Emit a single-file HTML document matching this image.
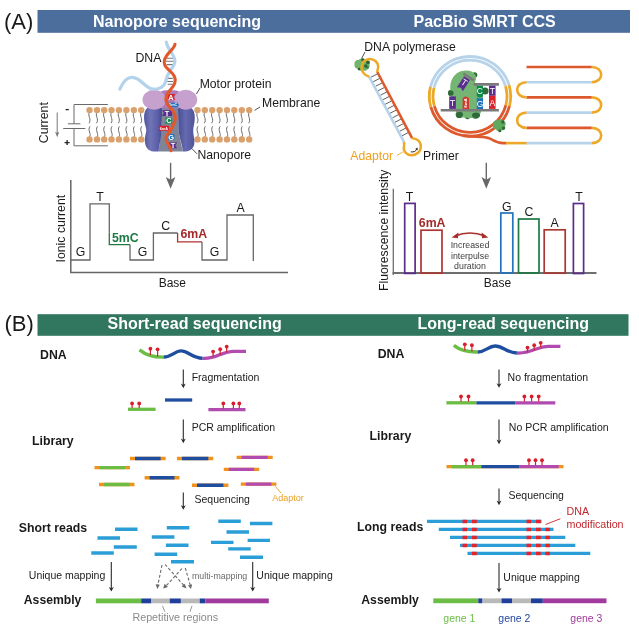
<!DOCTYPE html>
<html>
<head>
<meta charset="utf-8">
<title>Figure</title>
<style>
html,body{margin:0;padding:0;background:#fff;}
body{width:639px;height:630px;overflow:hidden;font-family:"Liberation Sans",sans-serif;}
svg{display:block;will-change:transform;}
text{font-family:"Liberation Sans",sans-serif;fill:#1a1a1a;}
.b{font-weight:bold;}
.h{font-weight:bold;font-size:16px;fill:#fff;}
.l12{font-size:12.3px;}
.l10{font-size:10.5px;}
</style>
</head>
<body>
<svg width="639" height="630" viewBox="0 0 639 630">
<defs>
<linearGradient id="poreG" x1="0" y1="0" x2="1" y2="0">
<stop offset="0" stop-color="#5a5fa6"/><stop offset="0.25" stop-color="#6c70b4"/><stop offset="0.5" stop-color="#4a4e92"/><stop offset="0.8" stop-color="#5e63aa"/><stop offset="1" stop-color="#474b8d"/>
</linearGradient>
<linearGradient id="poreL" x1="0" y1="0" x2="1" y2="0"><stop offset="0" stop-color="#52569c"/><stop offset="0.35" stop-color="#7074b7"/><stop offset="0.75" stop-color="#5b5fa8"/><stop offset="1" stop-color="#45498c"/></linearGradient>
<linearGradient id="poreR" x1="0" y1="0" x2="1" y2="0"><stop offset="0" stop-color="#4a4e93"/><stop offset="0.45" stop-color="#656ab0"/><stop offset="1" stop-color="#4f5399"/></linearGradient>
</defs>
<rect width="639" height="630" fill="#fff"/>

<!-- ===== HEADERS ===== -->
<g id="headers">
<rect x="37.5" y="10" width="592.5" height="22.8" fill="#4b6e9d"/>
<rect x="37.5" y="314.2" width="591" height="21.6" fill="#31765f"/>
<text x="4" y="28.6" font-size="22">(A)</text>
<text x="4.5" y="331.4" font-size="22">(B)</text>
<text class="h" x="93" y="27.2">Nanopore sequencing</text>
<text class="h" x="413.5" y="27.2">PacBio SMRT CCS</text>
<text class="h" x="107.5" y="329.2">Short-read sequencing</text>
<text class="h" x="417.5" y="329.2">Long-read sequencing</text>
</g>

<!-- ===== PANEL A LEFT: chart ===== -->
<g id="chartA">
<path d="M70.8 180V273.3M70.2 272.6H288" fill="none" stroke="#666" stroke-width="1.5"/>
<path d="M70.8 260H90V203.8H109.3V232.6" fill="none" stroke="#666" stroke-width="1.3"/>
<path d="M109.3 232.6V244.6H130" fill="none" stroke="#1d7a45" stroke-width="1.3"/>
<path d="M130 244.6V260H153.4V233H177.6" fill="none" stroke="#666" stroke-width="1.3"/>
<path d="M177.6 233V241.9H202" fill="none" stroke="#b03030" stroke-width="1.3"/>
<path d="M202 241.9V260H227V215H253.3V261" fill="none" stroke="#666" stroke-width="1.3"/>
<text class="l12" x="80.5" y="256" text-anchor="middle">G</text>
<text class="l12" x="100" y="201" text-anchor="middle">T</text>
<text class="l12 b" x="112" y="242" style="fill:#1d7a45">5mC</text>
<text class="l12" x="142.5" y="256" text-anchor="middle">G</text>
<text class="l12" x="165.8" y="230" text-anchor="middle">C</text>
<text class="l12 b" x="180.5" y="238" style="fill:#a52a2a">6mA</text>
<text class="l12" x="214.5" y="256" text-anchor="middle">G</text>
<text class="l12" x="240.5" y="212" text-anchor="middle">A</text>
<text class="l12" x="158.7" y="287" style="font-size:12px">Base</text>
<text class="l12" transform="translate(65,262.5) rotate(-90)">Ionic current</text>
<!-- arrow -->
<path d="M170.6 162.8V181" stroke="#686868" stroke-width="1.4" fill="none"/>
<path d="M165.8 176.9L170.6 188.7L175.4 176.9L170.6 179.8Z" fill="#686868"/>
</g>

<!-- ===== PANEL A RIGHT: chart ===== -->
<g id="chartB">
<path d="M393.3 188.8V275" fill="none" stroke="#6e6e6e" stroke-width="1.3"/>
<path d="M392.6 273H596.5" fill="none" stroke="#6e6e6e" stroke-width="2"/>
<rect x="404.7" y="203.4" width="10.4" height="70" fill="none" stroke="#5a2c8c" stroke-width="1.7"/>
<rect x="421" y="230.2" width="21" height="43" fill="none" stroke="#a93732" stroke-width="1.7"/>
<rect x="500.8" y="213" width="12" height="60" fill="none" stroke="#2374ba" stroke-width="1.7"/>
<rect x="518.5" y="219" width="20.5" height="54" fill="none" stroke="#1d7a45" stroke-width="1.7"/>
<rect x="544.2" y="229.8" width="21" height="43.4" fill="none" stroke="#a93732" stroke-width="1.7"/>
<rect x="573.4" y="203.5" width="10.2" height="70" fill="none" stroke="#5a2c8c" stroke-width="1.7"/>
<text class="l12" x="409.5" y="200.5" text-anchor="middle">T</text>
<text class="l12 b" x="418.8" y="227" style="fill:#a52a2a">6mA</text>
<text class="l12" x="506.9" y="210.5" text-anchor="middle">G</text>
<text class="l12" x="529" y="216" text-anchor="middle">C</text>
<text class="l12" x="554.6" y="226.7" text-anchor="middle">A</text>
<text class="l12" x="579" y="200.6" text-anchor="middle">T</text>
<text class="l12" x="483.8" y="287.4" style="font-size:12px">Base</text>
<text class="l12" transform="translate(388,291) rotate(-90)" style="font-size:12.2px">Fluorescence intensity</text>
<g style="font-size:8.8px" text-anchor="middle">
<text x="470" y="248" style="fill:#3c3c3c">Increased</text>
<text x="470" y="258.7" style="fill:#3c3c3c">interpulse</text>
<text x="470" y="269.3" style="fill:#3c3c3c">duration</text>
</g>
<path d="M455 236Q470 230 485 236" fill="none" stroke="#a8302a" stroke-width="1.6"/>
<path d="M451.6 237.4L458.4 232.6L458 238.2Z" fill="#a8302a"/>
<path d="M488.4 237.4L481.6 232.6L482 238.2Z" fill="#a8302a"/>
<path d="M486.3 162.8V181" stroke="#686868" stroke-width="1.4" fill="none"/>
<path d="M481.5 176.9L486.3 188.7L491.1 176.9L486.3 179.8Z" fill="#686868"/>
</g>

<!-- ===== PANEL A LEFT illustration ===== -->
<g id="nanopore">
<text class="l12" transform="translate(48.3,143.2) rotate(-90)">Current</text>
<path d="M57.2 112.5V133" stroke="#777" stroke-width="1" fill="none"/><path d="M55.1 131.8L57.2 137.2L59.3 131.8L57.2 133Z" fill="#777"/>
<path d="M65.6 109.6h3.2" stroke="#222" stroke-width="1.3"/><path d="M64.6 142.6h5M67.1 140.1v5" stroke="#222" stroke-width="1.3"/>
<path d="M107.9 104.5H74V123.8M67.9 123.8H80.4M63.2 128.5H85.3M74 128.5V145.8H107.9" fill="none" stroke="#6a6a6a" stroke-width="1"/>
<path d="M89.5 112.6c-2.4 3 2.4 6.4 -0.5 10.6M89.5 136.9c2.4 -3 -2.4 -6.4 0.5 -10.6M97.0 112.6c-2.4 3 2.4 6.4 -0.5 10.6M97.0 136.9c2.4 -3 -2.4 -6.4 0.5 -10.6M104.2 112.6c-2.4 3 2.4 6.4 -0.5 10.6M104.2 136.9c2.4 -3 -2.4 -6.4 0.5 -10.6M111.5 112.6c-2.4 3 2.4 6.4 -0.5 10.6M111.5 136.9c2.4 -3 -2.4 -6.4 0.5 -10.6M118.9 112.6c-2.4 3 2.4 6.4 -0.5 10.6M118.9 136.9c2.4 -3 -2.4 -6.4 0.5 -10.6M126.4 112.6c-2.4 3 2.4 6.4 -0.5 10.6M126.4 136.9c2.4 -3 -2.4 -6.4 0.5 -10.6M133.9 112.6c-2.4 3 2.4 6.4 -0.5 10.6M133.9 136.9c2.4 -3 -2.4 -6.4 0.5 -10.6M141.2 112.6c-2.4 3 2.4 6.4 -0.5 10.6M141.2 136.9c2.4 -3 -2.4 -6.4 0.5 -10.6M197.5 112.6c-2.4 3 2.4 6.4 -0.5 10.6M197.5 136.9c2.4 -3 -2.4 -6.4 0.5 -10.6M204.8 112.6c-2.4 3 2.4 6.4 -0.5 10.6M204.8 136.9c2.4 -3 -2.4 -6.4 0.5 -10.6M212.2 112.6c-2.4 3 2.4 6.4 -0.5 10.6M212.2 136.9c2.4 -3 -2.4 -6.4 0.5 -10.6M219.6 112.6c-2.4 3 2.4 6.4 -0.5 10.6M219.6 136.9c2.4 -3 -2.4 -6.4 0.5 -10.6M227.0 112.6c-2.4 3 2.4 6.4 -0.5 10.6M227.0 136.9c2.4 -3 -2.4 -6.4 0.5 -10.6M234.3 112.6c-2.4 3 2.4 6.4 -0.5 10.6M234.3 136.9c2.4 -3 -2.4 -6.4 0.5 -10.6M241.8 112.6c-2.4 3 2.4 6.4 -0.5 10.6M241.8 136.9c2.4 -3 -2.4 -6.4 0.5 -10.6M249.2 112.6c-2.4 3 2.4 6.4 -0.5 10.6M249.2 136.9c2.4 -3 -2.4 -6.4 0.5 -10.6" fill="none" stroke="#5a5a5a" stroke-width="0.9"/>
<g fill="#dba16d"><circle cx="89.5" cy="110.1" r="3.2"/><circle cx="89.5" cy="139.4" r="3.2"/><circle cx="97.0" cy="110.1" r="3.2"/><circle cx="97.0" cy="139.4" r="3.2"/><circle cx="104.2" cy="110.1" r="3.2"/><circle cx="104.2" cy="139.4" r="3.2"/><circle cx="111.5" cy="110.1" r="3.2"/><circle cx="111.5" cy="139.4" r="3.2"/><circle cx="118.9" cy="110.1" r="3.2"/><circle cx="118.9" cy="139.4" r="3.2"/><circle cx="126.4" cy="110.1" r="3.2"/><circle cx="126.4" cy="139.4" r="3.2"/><circle cx="133.9" cy="110.1" r="3.2"/><circle cx="133.9" cy="139.4" r="3.2"/><circle cx="141.2" cy="110.1" r="3.2"/><circle cx="141.2" cy="139.4" r="3.2"/><circle cx="197.5" cy="110.1" r="3.2"/><circle cx="197.5" cy="139.4" r="3.2"/><circle cx="204.8" cy="110.1" r="3.2"/><circle cx="204.8" cy="139.4" r="3.2"/><circle cx="212.2" cy="110.1" r="3.2"/><circle cx="212.2" cy="139.4" r="3.2"/><circle cx="219.6" cy="110.1" r="3.2"/><circle cx="219.6" cy="139.4" r="3.2"/><circle cx="227.0" cy="110.1" r="3.2"/><circle cx="227.0" cy="139.4" r="3.2"/><circle cx="234.3" cy="110.1" r="3.2"/><circle cx="234.3" cy="139.4" r="3.2"/><circle cx="241.8" cy="110.1" r="3.2"/><circle cx="241.8" cy="139.4" r="3.2"/><circle cx="249.2" cy="110.1" r="3.2"/><circle cx="249.2" cy="139.4" r="3.2"/></g>
<!-- rungs -->
<path d="M166.5 58.2H173.5M166 61.3H174M166.5 64.6H173.5M167.7 78.4H172.7M167.2 81.5H173M167.7 84.3H172.7" stroke="#777" stroke-width="1.1" fill="none"/>
<!-- pore body -->
<path d="M158.6 151.4L159.6 143C160.6 137 161.4 133 161.6 128L162.2 108H178L178.4 128C178.6 133 179.6 137 181 143L182.8 151.4Z" fill="#7f8597"/>
<path d="M162.2 108.2C160 106.4 151 105.8 147.4 108C143.8 110.4 143.8 117 144.4 121.5C145 126 146.6 127.6 146.2 131C145.8 134.6 144.6 137 144.8 141C145.2 147 148.4 151.4 153.4 151.4H158.6C159 147.6 159.4 145 160 142C161.2 137 161.4 133 161.6 128Z" fill="url(#poreL)"/>
<path d="M178 108.2C180 106.6 186 106.4 190 107.6C193.6 108.8 194.8 113 194.8 118C194.8 123 193.2 126.6 193.2 131C193.2 135 194.6 138.4 194.4 142.6C194.2 148 190.4 151.4 185.6 151.4H182.8C182.4 147.6 181.8 145 181 142C179.6 137 178.6 133 178.4 128Z" fill="url(#poreR)"/>
<!-- motor protein -->
<path d="M159 92.5C163 89.2 177 89.2 181 92.5C183 97 182 104.5 178.6 108.4H162C158.4 104.5 157.4 97 159 92.5Z" fill="#b07ab7"/>
<ellipse cx="154.2" cy="99.7" rx="11.7" ry="10" fill="#c7a1ce"/>
<ellipse cx="185.8" cy="99.7" rx="11.4" ry="10" fill="#c7a1ce"/>
<!-- bases -->
<g>
<path d="M167.5 93.9H175.3L173.6 96.8L175.3 99.8H167.5Z" fill="#d8232a"/>
<path d="M167.8 102.7H177.4L179 105L177.4 107.3H167.8Z" fill="#1e73be"/>
<path d="M162 110.2H172.2V116H162L163.8 113.1Z" fill="#5b2d8e"/>
<path d="M164.7 117.8H172.2V123.4H164.7L166.4 120.6Z" fill="#0f8a4a"/>
<path d="M158.3 125.8H169V130.8H158.3L159.8 128.3Z" fill="#d8232a"/>
<rect x="167.8" y="133.9" width="6.6" height="6.2" rx="1.4" fill="#1e73be"/>
<path d="M168.2 142.6H177.1L175.4 145.4L177.1 148.2H168.2Z" fill="#5b2d8e"/>
</g>
<g fill="#fff" font-weight="bold" text-anchor="middle">
<text x="170.8" y="99.6" style="fill:#fff;font-size:7.4px">A</text>
<text x="173.2" y="106.4" style="fill:#fff;font-size:3.8px">5mC</text>
<text x="167" y="115.8" style="fill:#fff;font-size:7.4px">T</text>
<text x="169" y="123.3" style="fill:#fff;font-size:7.4px">C</text>
<text x="163.8" y="129.6" style="fill:#fff;font-size:3.8px">6mA</text>
<text x="171.1" y="139.7" style="fill:#fff;font-size:7.4px">G</text>
<text x="173" y="148" style="fill:#fff;font-size:7.4px">T</text>
</g>
<!-- blue strand -->
<path d="M166.3 42C167 47 170 50 172 53.5C176 60 176 63 171 69.5C168 73.5 166.5 77 165.6 81.5C164.5 86.5 159 89.6 153.5 89.2C147 88.8 144 83 138.2 79.4C134 76.8 130 76.8 127 79C123.5 81.5 121.5 85.5 119.9 89.2" fill="none" stroke="#b3d2ec" stroke-width="3.2" stroke-linecap="round"/>
<!-- orange strand -->
<path d="M175 44.2C174 50 166 53 164.4 60.4C163.2 66 167 68 170 71C173.5 74.5 176 77 175 82C174 88 166.2 92 165.9 98.6C165.6 104 169 106 171 108.5C174 112 176 115 175.3 119.4C174.5 124 172 127 171 129.6C169 133 165.6 135 165.9 138.5C166.4 143 170.5 146 171 150.8" fill="none" stroke="#e1592b" stroke-width="3.1" stroke-linecap="round"/>
<!-- labels -->
<text class="l12" x="135.4" y="62">DNA</text>
<text class="l12" x="199.7" y="87.5" style="font-size:12.2px">Motor protein</text>
<text class="l12" x="262" y="106.7" style="font-size:12.2px">Membrane</text>
<text class="l12" x="197.5" y="159" style="font-size:12.2px">Nanopore</text>
<path d="M200 88L196.4 94M260 107L254.5 110.4M192 148.7L197 153.8" stroke="#222" stroke-width="0.8" fill="none"/>

</g>
<!-- ===== PANEL A RIGHT illustration ===== -->
<g id="pacbio">
<g id="pol1"><path d="M354.6 64.5C353.8 61.6 356.4 59.4 358.8 60C360 58.2 363.6 58 365 59.6C367.6 59.2 369.6 61 369 63.4C370.4 65 369.8 67.8 367.6 68.4C367.4 70.6 364.6 71.6 362.8 70.2C361 71.4 358.2 70.8 357.6 68.6C355.4 68.6 354 66.4 354.6 64.5Z" fill="#6db56b"/><circle cx="362.8" cy="59.8" r="1.5" fill="#2a6434"/><circle cx="368" cy="62.4" r="1.9" fill="#2a6434"/><circle cx="365.8" cy="66" r="1.7" fill="#2a6434"/><circle cx="359" cy="69" r="1.3" fill="#2a6434"/><circle cx="367.6" cy="67.6" r="1.4" fill="#3b7d44"/></g>
<path d="M370.6 77.4L377.3 73.9M373.0 81.9L379.7 78.4M375.4 86.4L382.1 82.9M377.8 90.9L384.5 87.4M380.2 95.4L386.9 91.9M382.6 99.9L389.3 96.4M385.0 104.4L391.7 100.9M387.4 108.9L394.1 105.4M389.8 113.4L396.6 109.9M392.3 117.9L399.0 114.4M394.7 122.4L401.4 118.9M397.1 126.9L403.8 123.4M399.5 131.4L406.2 127.9M401.9 135.9L408.6 132.4" stroke="#606060" stroke-width="1" fill="none"/>
<path d="M368.8 76.2L404.1 142.2" stroke="#b7d3ea" stroke-width="2.6" fill="none"/>
<path d="M377.3 72L412.1 138.2" stroke="#dd5a2e" stroke-width="2.6" fill="none"/>
<path d="M369 76.6C365 75.5 361.5 72 361.5 67C361.5 62.5 365 59.1 369.8 59.1C374.5 59.1 378.2 62.5 378.2 66.5C378.2 69 377 70.2 377.4 72.2" stroke="#eea827" stroke-width="2.5" fill="none"/>
<path d="M404 142C404.4 144 404.2 145 403.9 147C403.2 151.5 407 155.2 411.6 155.2C416.6 155.2 420.8 151.5 420.8 146.7C420.8 143 418.5 140.2 416 139.2C414.5 138.6 413 138.6 412 138" stroke="#eea827" stroke-width="2.5" fill="none"/>
<path d="M410.8 151.9C413.6 152.2 415.8 151.4 416.6 149.4" stroke="#222" stroke-width="1" fill="none"/><path d="M415.2 149L417.4 147.6L417.8 150.2Z" fill="#222"/>
<text class="l12" x="364.3" y="50.5" style="font-size:12.2px">DNA polymerase</text>
<path d="M365 52L361.6 58.5" stroke="#222" stroke-width="0.8" fill="none"/>
<text class="l12" x="350.3" y="160.4" style="font-size:12.2px;fill:#eea020">Adaptor</text>
<path d="M396.9 155.5L402.9 151.9" stroke="#eea020" stroke-width="0.9" fill="none"/>
<text class="l12" x="423" y="160.4" style="font-size:12.2px">Primer</text>
<path d="M430.46 86.87A40.7 39.8 0 0 1 509.08 85.20" stroke="#b7d3ea" stroke-width="2.8" fill="none"/>
<path d="M509.47 106.00A40.7 39.8 0 0 1 430.80 107.00" stroke="#dd5a2e" stroke-width="2.8" fill="none"/>
<path d="M509.08 85.20A40.7 39.8 0 0 1 509.47 106.00" stroke="#eea827" stroke-width="2.8" fill="none"/>
<path d="M430.80 107.00A40.7 39.8 0 0 1 430.46 86.87" stroke="#eea827" stroke-width="2.8" fill="none"/>
<path d="M434.05 87.75A37.0 36.1 0 0 1 505.53 86.23" stroke="#b7d3ea" stroke-width="2.8" fill="none"/>
<path d="M505.89 105.09A37.0 36.1 0 0 1 434.36 106.01" stroke="#dd5a2e" stroke-width="2.8" fill="none"/>
<path d="M505.53 86.23A37.0 36.1 0 0 1 505.89 105.09" stroke="#eea827" stroke-width="2.8" fill="none"/>
<path d="M434.36 106.01A37.0 36.1 0 0 1 434.05 87.75" stroke="#eea827" stroke-width="2.8" fill="none"/>
<path d="M463 135.6C475 137.4 484 135.6 490 138.6C494 140.6 497 143.1 503 143.1H506.5" stroke="#dd5a2e" stroke-width="2.6" fill="none"/>
<path d="M506 143.1H527" stroke="#eea827" stroke-width="2.6" fill="none"/>
<path d="M526.5 67H591.8" stroke="#dd5a2e" stroke-width="2.6" fill="none"/>
<path d="M526.5 82.2H591.8" stroke="#b7d3ea" stroke-width="2.6" fill="none"/>
<path d="M526.5 97.4H591.8" stroke="#dd5a2e" stroke-width="2.6" fill="none"/>
<path d="M526.5 112.6H591.8" stroke="#b7d3ea" stroke-width="2.6" fill="none"/>
<path d="M526.5 127.9H591.8" stroke="#dd5a2e" stroke-width="2.6" fill="none"/>
<path d="M526.5 143.1H591.8" stroke="#b7d3ea" stroke-width="2.6" fill="none"/>
<path d="M591.8 67C604.3 67 604.3 82.2 591.8 82.2" stroke="#eea827" stroke-width="2.6" fill="none"/>
<path d="M526.5 82.2C514.0 82.2 514.0 97.4 526.5 97.4" stroke="#eea827" stroke-width="2.6" fill="none"/>
<path d="M591.8 97.4C604.3 97.4 604.3 112.6 591.8 112.6" stroke="#eea827" stroke-width="2.6" fill="none"/>
<path d="M526.5 112.6C514.0 112.6 514.0 127.9 526.5 127.9" stroke="#eea827" stroke-width="2.6" fill="none"/>
<path d="M591.8 127.9C604.3 127.9 604.3 143.1 591.8 143.1" stroke="#eea827" stroke-width="2.6" fill="none"/>
<g fill="#2f6b3a"><circle cx="474.6" cy="74.9" r="2.7"/><circle cx="451.2" cy="93" r="3.2"/><circle cx="485" cy="91" r="3.6"/><circle cx="459.3" cy="114.4" r="3.6"/><circle cx="475.6" cy="114.8" r="3.9"/><circle cx="467.5" cy="116.6" r="2.6"/></g>
<path d="M450.3 90.4C450.2 87 450.3 84 451.2 81.3C452.8 76.6 456 73.4 460 71.6C462.6 70.9 465 70.5 467.5 70.6C470 70.7 472 71.6 473.6 73.1C475.2 74.6 476.2 76.2 476.1 78.2C476 80 475 81.6 475.1 83.3C476 85 481 86 482.6 90C483.4 93 483 98 482.6 103C482.3 106 482.2 108 481.7 109.8C481 112.5 480.2 114.4 478.7 115.9C476 117.6 472 118 468.5 117.9C465 117.8 461 117.4 458.3 115.9C456.8 114.4 456 112.4 455.8 109.8C455.4 105 452.5 101 451 97C450.4 95 450.3 93 450.3 90.4Z" fill="#74b573"/>
<g fill="#2f6b3a"><ellipse cx="459.6" cy="114.6" rx="3.4" ry="2.8"/><ellipse cx="476" cy="115.2" rx="4" ry="2.8"/><circle cx="451" cy="93" r="2.6"/></g>
<path d="M463.4 73.5L473.8 80.4" stroke="#7a7a7a" stroke-width="2.6" fill="none"/>
<path d="M473.5 84.4H498.9M440.7 110.2H498.9" stroke="#7a7a7a" stroke-width="2.6" fill="none"/>
<g transform="translate(463.7,83.4) rotate(33)"><path d="M-3.5 -6.2H3.5V7L0 5.2L-3.5 7Z" fill="#5b2d8e"/><text x="0" y="2" text-anchor="middle" style="fill:#fff;font-size:9px">T</text></g>
<path d="M449.2 96.4H455.9V108.9H449.2Z" fill="#5b2d8e"/>
<path d="M462.6 98.2Q465.8 94.6 469 98.2V108.9H462.6Z" fill="#d23a2c"/>
<path d="M476.8 97.4Q479.9 99.4 483 97.4V108.9H476.8Z" fill="#1e73be"/>
<path d="M489 95.4H495.6V108.9H489Z" fill="#d8232a"/>
<path d="M476.8 85.7H483V96Q479.9 99 476.8 96Z" fill="#0f8a4a"/>
<path d="M489 85.7H495.6V95.6H489Z" fill="#5b2d8e"/>
<g text-anchor="middle"><text x="452.6" y="106.4" style="fill:#fff;font-size:9px">T</text><text x="479.9" y="106.6" style="fill:#fff;font-size:8.4px">G</text><text x="492.3" y="106.4" style="fill:#fff;font-size:8.6px">A</text><text x="479.9" y="94.4" style="fill:#fff;font-size:8.4px">C</text><text x="492.3" y="94.2" style="fill:#fff;font-size:8.6px">T</text></g>
<text transform="translate(467.2,107.8) rotate(-90)" style="fill:#fff;font-size:4.4px;font-weight:bold">6mA</text>
<g id="pol2" transform="translate(499.2,125.3) scale(1.08) translate(-499,-124.4)"><path d="M493.4 123.5C493 120.8 495.6 119 497.6 119.8C499 118 502 118.6 502.6 120.6C505 120.6 505.8 123.6 504.2 125C505.4 127.2 503.4 129.6 501.2 128.8C499.8 130.8 496.6 130.2 496.2 128C493.8 128 492.6 125.2 493.4 123.5Z" fill="#5fa860"/><circle cx="502.4" cy="121.4" r="1.6" fill="#2f6b3a"/><circle cx="503" cy="127" r="1.6" fill="#2f6b3a"/><circle cx="499.6" cy="129.4" r="1.4" fill="#2f6b3a"/></g>
</g>
<!-- ===== PANEL B LEFT ===== -->
<g id="pbl">
<text class="l12 b" x="40" y="358.8">DNA</text>
<text class="l12 b" x="32" y="444.5">Library</text>
<text class="l12 b" x="18.8" y="531.3" style="font-size:12.3px" dy="0.4">Short reads</text>
<text class="l12 b" x="23.8" y="603.8" style="font-size:12.2px">Assembly</text>
<!-- wavy DNA -->
<g fill="none" stroke-width="3.3" stroke-linecap="butt" transform="translate(0,0.9)">
<path d="M139.5 349C145 353.5 152 356.5 163.5 356.3" stroke="#6cbd45"/>
<path d="M163.5 356.3C172 356 175 350 181 350C188 350 192 357 202.7 357.5" stroke="#1f4ea1"/>
<path d="M202.7 357.5C217 358.4 221 350.4 234 350.4H246" stroke="#b24bb0"/>
</g>
<g id="lolA" stroke="#d81e2c" stroke-width="1.2" fill="#d81e2c">
<path d="M150.4 355V349.5"/><circle cx="150.4" cy="348.7" r="1.9" stroke="none"/>
<path d="M157.6 356.5V350"/><circle cx="157.6" cy="349.3" r="1.9" stroke="none"/>
<path d="M213.1 357V352.4"/><circle cx="213.1" cy="351.6" r="1.9" stroke="none"/>
<path d="M220.2 355V350"/><circle cx="220.2" cy="349.2" r="1.9" stroke="none"/>
<path d="M226.7 352.4V347.4"/><circle cx="226.7" cy="346.6" r="1.9" stroke="none"/>
</g>
<!-- arrows -->
<g stroke="#2a2a2a" stroke-width="1.1" fill="#2a2a2a">
<path d="M183.3 369.5V385.7" fill="none"/><path d="M180.8 383.59999999999997L183.3 388.2L185.8 383.59999999999997L183.3 385.0Z" stroke="none"/>
<path d="M183.3 419.5V440.7" fill="none"/><path d="M180.8 438.59999999999997L183.3 443.2L185.8 438.59999999999997L183.3 440.0Z" stroke="none"/>
<path d="M183.3 492.5V507.3" fill="none"/><path d="M180.8 505.2L183.3 509.8L185.8 505.2L183.3 506.6Z" stroke="none"/>
<path d="M111.3 562V589.0" fill="none"/><path d="M108.8 586.9L111.3 591.5L113.8 586.9L111.3 588.3Z" stroke="none"/>
<path d="M252.7 562V589.0" fill="none"/><path d="M250.2 586.9L252.7 591.5L255.2 586.9L252.7 588.3Z" stroke="none"/>
</g>
<text class="l10" x="191.7" y="381">Fragmentation</text>
<text class="l10" x="191.7" y="430.5">PCR amplification</text>
<text class="l10" x="194.5" y="502.5">Sequencing</text>
<text class="l10" x="28.8" y="578.5">Unique mapping</text>
<text class="l10" x="256.3" y="578.5">Unique mapping</text>
<text x="192" y="578.5" style="font-size:8.8px;fill:#6a6a6a">multi-mapping</text>
<text x="132.5" y="621" style="font-size:10.7px;fill:#8a8a8a">Repetitive regions</text>
<text x="272.3" y="500.6" style="font-size:9px;fill:#e8a020">Adaptor</text>
<path d="M275.3 486.3L281 493" stroke="#e8a020" stroke-width="0.9" fill="none"/>
<!-- fragments -->
<g stroke-width="3.3" fill="none">
<path d="M128 409.3H155.6" stroke="#6cbd45"/>
<path d="M165 400H192.2" stroke="#1f4ea1"/>
<path d="M208.4 409.7H245.5" stroke="#b24bb0"/>
</g>
<g stroke="#d81e2c" stroke-width="1.2" fill="#d81e2c">
<path d="M132.1 408V403.8"/><circle cx="132.1" cy="403.4" r="1.9" stroke="none"/>
<path d="M139.2 408V403.8"/><circle cx="139.2" cy="403.4" r="1.9" stroke="none"/>
<path d="M223.3 408.5V403.8"/><circle cx="223.3" cy="403.4" r="1.9" stroke="none"/>
<path d="M233.4 408.5V403.8"/><circle cx="233.4" cy="403.4" r="1.9" stroke="none"/>
<path d="M239.3 408.5V403.8"/><circle cx="239.3" cy="403.4" r="1.9" stroke="none"/>
</g>
<!-- library pieces: orange base then coloured centre -->
<g stroke-width="3.4" fill="none" stroke="#f0921e">
<path d="M130 458.5H165.6M176.9 458.5H213.3M236.6 457.4H272.7M94.5 467.6H130M223.8 469.4H259.2M144.6 477.7H179.5M99 484.5H134.5M192 485.2H228.4M240.8 484.1H276.4"/>
</g>
<g stroke-width="3.4" fill="none">
<path d="M135 458.5H160.6M181.9 458.5H208.3M149.6 477.7H174.5M197 485.2H223.4" stroke="#1f4ea1"/>
<path d="M241.6 457.4H267.7M228.8 469.4H254.2M245.8 484.1H271.4" stroke="#b24bb0"/>
<path d="M99.5 467.6H125M104 484.5H129.5" stroke="#6cbd45"/>
</g>
<!-- short reads -->
<g stroke-width="3.4" fill="none" stroke="#2b9ed8">
<path d="M115 529.3H137.5M97.5 538H120M113.8 547H136.8M91.3 553H113.8"/>
<path d="M166.8 527.7H189.3M151.8 537H174.4M165.9 545.2H188.5M154.6 554.2H177.2M171 561.8H194"/>
<path d="M218.3 521.3H240.8M249.9 523.5H272.4M226.5 532H249M247.6 540.4H270M211 542.4H233.5M228.2 548.9H250.7M240 557.3H263"/>
</g>
<!-- dashed multi-mapping arrows -->
<g stroke="#6a6a6a" stroke-width="1.1" fill="none" stroke-dasharray="3 2">
<path d="M162 565L157.8 585.5"/>
<path d="M165 564.5L184 585.5"/>
<path d="M182 568.5L166 586"/>
<path d="M185.3 568L190.3 585.5"/>
</g>
<g fill="#6a6a6a">
<path d="M155.6 584.2L157.4 589L159.8 584.8Z"/>
<path d="M181.6 586.6L186.4 588.4L184.8 583.8Z"/>
<path d="M164.6 583.8L163.2 588.6L168 587Z"/>
<path d="M188 585.4L191 589L192.2 584.2Z"/>
</g>
<!-- assembly bar -->
<g>
<rect x="95.9" y="598.5" width="45.3" height="4.8" fill="#6cbd45"/>
<rect x="141.2" y="598.5" width="10.2" height="4.8" fill="#1f3f9a"/>
<rect x="151.4" y="598.5" width="18.3" height="4.8" fill="#b9b9b9"/>
<rect x="169.7" y="598.5" width="11.2" height="4.8" fill="#1f3f9a"/>
<rect x="180.9" y="598.5" width="18.8" height="4.8" fill="#b9b9b9"/>
<rect x="199.7" y="598.5" width="5.8" height="4.8" fill="#1f3f9a"/>
<rect x="205.5" y="598.5" width="63.3" height="4.8" fill="#a03a9c"/>
</g>
<path d="M162.5 605.8L164.8 611.8M192 605.8L190 611.8" stroke="#8a8a8a" stroke-width="0.9" fill="none"/>
</g>

<!-- ===== PANEL B RIGHT ===== -->
<g id="pbr">
<text class="l12 b" x="377.7" y="358.3">DNA</text>
<text class="l12 b" x="369.6" y="439.7">Library</text>
<text class="l12 b" x="357" y="531.3" style="font-size:12.3px">Long reads</text>
<text class="l12 b" x="361.3" y="603.5" style="font-size:12.2px">Assembly</text>
<g fill="none" stroke-width="3.3">
<path d="M453.8 345.4C459 349.6 466 352.2 477.6 352" stroke="#6cbd45"/>
<path d="M477.6 352C486 351.8 488 346 495.2 346C503 346 506 352.5 516.9 353" stroke="#1f4ea1"/>
<path d="M516.9 353C532 353.8 536 346.3 549 346.3H560.4" stroke="#b24bb0"/>
</g>
<g stroke="#d81e2c" stroke-width="1.2" fill="#d81e2c">
<path d="M464.8 350.5V345"/><circle cx="464.8" cy="344.3" r="1.9" stroke="none"/>
<path d="M471.9 351.6V346"/><circle cx="471.9" cy="345.2" r="1.9" stroke="none"/>
<path d="M527.5 352.5V348.4"/><circle cx="527.5" cy="347.6" r="1.9" stroke="none"/>
<path d="M534.2 350.5V346"/><circle cx="534.2" cy="345.2" r="1.9" stroke="none"/>
<path d="M540.7 347.6V343.5"/><circle cx="540.7" cy="342.8" r="1.9" stroke="none"/>
</g>
<g stroke="#2a2a2a" stroke-width="1.1" fill="#2a2a2a">
<path d="M499 369.5V385.3" fill="none"/><path d="M496.5 383.2L499 387.8L501.5 383.2L499 384.6Z" stroke="none"/>
<path d="M499 419.5V441.7" fill="none"/><path d="M496.5 439.59999999999997L499 444.2L501.5 439.59999999999997L499 441.0Z" stroke="none"/>
<path d="M499 488.5V502.7" fill="none"/><path d="M496.5 500.59999999999997L499 505.2L501.5 500.59999999999997L499 502.0Z" stroke="none"/>
<path d="M499 563V590.0" fill="none"/><path d="M496.5 587.9L499 592.5L501.5 587.9L499 589.3Z" stroke="none"/>
</g>
<text class="l10" x="507.6" y="380.8">No fragmentation</text>
<text class="l10" x="508.8" y="430.5">No PCR amplification</text>
<text class="l10" x="508.5" y="499">Sequencing</text>
<text class="l10" x="503.3" y="580.5">Unique mapping</text>
<text class="l10" x="566.5" y="515.2" style="fill:#c1272d;font-size:10.7px">DNA</text>
<text class="l10" x="566.5" y="527.5" style="fill:#c1272d;font-size:10.7px">modification</text>
<path d="M545.5 524.5L560.3 518.8" stroke="#c1272d" stroke-width="0.9" fill="none"/>
<!-- straight DNA -->
<g stroke-width="3.3" fill="none">
<path d="M446.4 402.8H476.4" stroke="#6cbd45"/>
<path d="M476.4 402.8H515.1" stroke="#1f4ea1"/>
<path d="M515.1 402.8H555.3" stroke="#b24bb0"/>
</g>
<g stroke="#d81e2c" stroke-width="1.2" fill="#d81e2c">
<path d="M461 401.5V397"/><circle cx="461" cy="396.4" r="1.9" stroke="none"/>
<path d="M468.5 401.5V397"/><circle cx="468.5" cy="396.4" r="1.9" stroke="none"/>
<path d="M524.4 401.5V397"/><circle cx="524.4" cy="396.4" r="1.9" stroke="none"/>
<path d="M531.6 401.5V397"/><circle cx="531.6" cy="396.4" r="1.9" stroke="none"/>
<path d="M538.7 401.5V397"/><circle cx="538.7" cy="396.4" r="1.9" stroke="none"/>
</g>
<!-- library DNA -->
<g stroke-width="3.3" fill="none">
<path d="M446.5 466.7H563.5" stroke="#f0921e"/>
<path d="M451.7 466.7H481.4" stroke="#6cbd45"/>
<path d="M481.4 466.7H519.4" stroke="#1f4ea1"/>
<path d="M519.4 466.7H558.7" stroke="#b24bb0"/>
</g>
<g stroke="#d81e2c" stroke-width="1.2" fill="#d81e2c">
<path d="M466 465.2V460.8"/><circle cx="466" cy="460.2" r="1.9" stroke="none"/>
<path d="M472.7 465.2V460.8"/><circle cx="472.7" cy="460.2" r="1.9" stroke="none"/>
<path d="M529 465.2V460.8"/><circle cx="529" cy="460.2" r="1.9" stroke="none"/>
<path d="M535.5 465.2V460.8"/><circle cx="535.5" cy="460.2" r="1.9" stroke="none"/>
<path d="M542 465.2V460.8"/><circle cx="542" cy="460.2" r="1.9" stroke="none"/>
</g>
<!-- long reads -->
<g stroke-width="3.4" fill="none" stroke="#2b9ed8">
<path d="M427 521.4H541.5M438.8 529.4H553.5M450 537.4H565.3M460 545.4H575.3M467.5 553.4H590.3"/>
</g>
<g stroke-width="3.5" fill="none" stroke="#e5232b">
<path d="M462.5 521.4h4.6M472 521.4h4.8M526.5 521.4h4.6M536 521.4h4.8"/>
<path d="M462.5 529.4h4.6M472 529.4h4.8M526.5 529.4h4.6M536 529.4h4.8M545.3 529.4h4.6"/>
<path d="M462.5 537.4h4.6M472 537.4h4.8M526.5 537.4h4.6M536 537.4h4.8M545.3 537.4h4.6"/>
<path d="M462.5 545.4h4.6M472 545.4h4.8M526.5 545.4h4.6M536 545.4h4.8M545.3 545.4h4.6"/>
<path d="M472 553.4h4.8M526.5 553.4h4.6M536 553.4h4.8M545.3 553.4h4.6"/>
</g>
<!-- assembly bar -->
<g>
<rect x="433.3" y="598.4" width="45" height="4.8" fill="#6cbd45"/>
<rect x="478.3" y="598.4" width="4.2" height="4.8" fill="#1f3f9a"/>
<rect x="482.5" y="598.4" width="19" height="4.8" fill="#b9b9b9"/>
<rect x="501.5" y="598.4" width="10.8" height="4.8" fill="#1f3f9a"/>
<rect x="512.3" y="598.4" width="18.7" height="4.8" fill="#b9b9b9"/>
<rect x="531" y="598.4" width="11.8" height="4.8" fill="#1f3f9a"/>
<rect x="542.8" y="598.4" width="63.7" height="4.8" fill="#a03a9c"/>
</g>
<text class="l10" x="443.3" y="622" style="fill:#6cbd45">gene 1</text>
<text class="l10" x="498.3" y="622" style="fill:#24479c">gene 2</text>
<text class="l10" x="570.3" y="622" style="fill:#a03a9c">gene 3</text>
</g>

</svg>
</body>
</html>
